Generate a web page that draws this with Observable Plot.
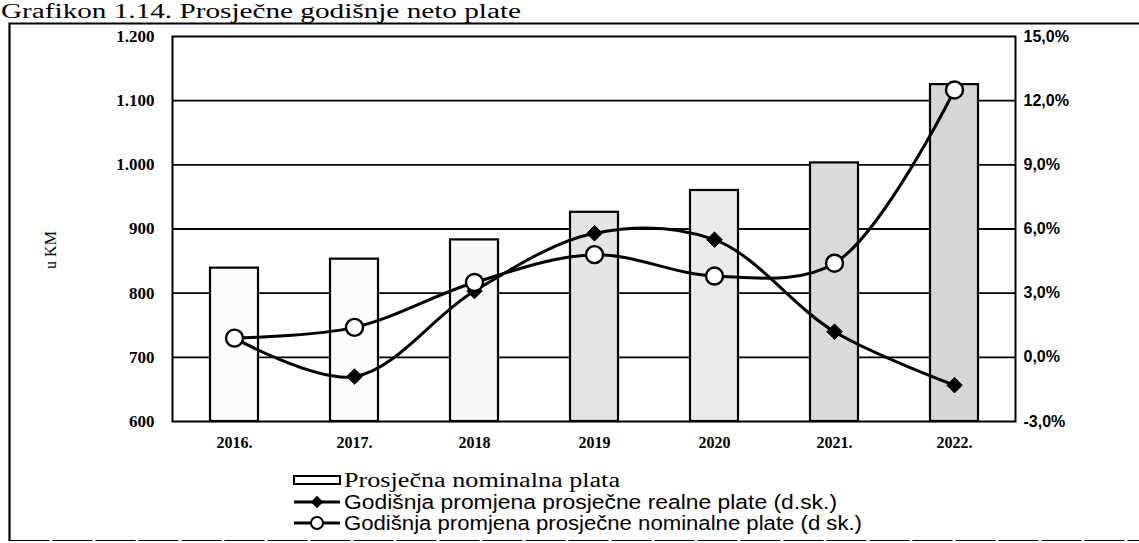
<!DOCTYPE html>
<html><head><meta charset="utf-8">
<script src="https://cdn.jsdelivr.net/npm/d3@7"></script>
<script src="https://cdn.jsdelivr.net/npm/@observablehq/plot@0.6"></script>
<style>
body{margin:0;background:#fff}
#wrap{position:relative;width:1139px;height:543px;overflow:hidden;background:#fff}
#wrap svg{position:absolute;left:0;top:0}
</style>
</head><body><div id="wrap"></div>
<script>
// ---- data ----
const years = ["2016.", "2017.", "2018", "2019", "2020", "2021.", "2022."];
const plata = [839, 853, 883, 926, 960, 1003, 1125];          // Prosječna nominalna plata (KM)
const realna = [0.9, -0.9, 3.1, 5.8, 5.5, 1.2, -1.3];          // godišnja promjena realne plate (%)
const nominalna = [0.9, 1.4, 3.5, 4.8, 3.8, 4.4, 12.5];       // godišnja promjena nominalne plate (%)
const leftTicks = [600, 700, 800, 900, 1000, 1100, 1200];
const leftLabels = ["600", "700", "800", "900", "1.000", "1.100", "1.200"];
const rightPct = [-3, 0, 3, 6, 9, 12, 15];
const rightLabels = ["-3,0%", "0,0%", "3,0%", "6,0%", "9,0%", "12,0%", "15,0%"];
const legendLabels = ["Prosječna nominalna plata",
  "Godišnja promjena prosječne realne plate (d.sk.)",
  "Godišnja promjena prosječne nominalne plate (d sk.)"];
const title = "Grafikon 1.14. Prosječne godišnje neto plate";
const yTitle = "u KM";

// styles
const barShades = ["#fbfbfb", "#fcfcfc", "#f7f7f7", "#e4e4e4", "#eaeaea", "#dadada", "#d6d6d6"];

// map the right-axis percentage onto the left KM scale (-3% -> 600, 15% -> 1200)
const toKM = p => 600 + (p - rightPct[0]) * (1200 - 600) / (rightPct[rightPct.length - 1] - rightPct[0]);
const rightTicks = rightPct.map(toKM);

const rows = years.map((y, i) => ({year: y, plata: plata[i], real: toKM(realna[i]), nom: toKM(nominalna[i])}));

const chart = Plot.plot({
  width: 1139, height: 460,
  marginLeft: 172, marginRight: 124, marginTop: 36, marginBottom: 39,
  style: {background: "transparent", fontFamily: "Liberation Serif", color: "#000"},
  x: {domain: years, paddingInner: 0.6, paddingOuter: 0.3, axis: null},
  y: {domain: [600, 1200], axis: null},
  color: {type: "ordinal", domain: years, range: barShades},
  marks: [
    Plot.ruleY(leftTicks.slice(1, -1), {stroke: "#000", strokeWidth: 1.8}),
    Plot.barY(rows, {x: "year", y1: 600, y2: "plata", fill: "year", stroke: "#000", strokeWidth: 2.2}),
    Plot.frame({stroke: "#000", strokeWidth: 2}),
    Plot.line(rows, {x: "year", y: "real", curve: "catmull-rom", stroke: "#000", strokeWidth: 3}),
    Plot.dot(rows, {x: "year", y: "real", symbol: "diamond2", r: 7, fill: "#000", stroke: "#000", strokeWidth: 1}),
    Plot.line(rows, {x: "year", y: "nom", curve: "catmull-rom", stroke: "#000", strokeWidth: 3}),
    Plot.dot(rows, {x: "year", y: "nom", r: 8.5, fill: "#fff", stroke: "#000", strokeWidth: 2.4}),
    Plot.axisX({tickSize: 0, tickPadding: 15, fontSize: 16, fontWeight: "bold", label: null}),
    Plot.axisY({anchor: "left", ticks: leftTicks, tickFormat: d => leftLabels[leftTicks.indexOf(d)],
      tickSize: 0, tickPadding: 18, fontSize: 17, fontWeight: "bold", label: null}),
    Plot.axisY({anchor: "right", ticks: rightTicks, tickFormat: d => rightLabels[rightTicks.indexOf(d)],
      tickSize: 0, tickPadding: 8, fontSize: 16, fontWeight: "bold", fontFamily: "Liberation Sans", label: null})
  ]
});
const wrap = document.getElementById("wrap");
wrap.appendChild(chart);

// ---- overlay: title, frame, y title, legend ----
const ov = d3.select(wrap).append("svg").attr("width", 1139).attr("height", 543)
  .style("pointer-events", "none");
ov.append("text").attr("x", 1).attr("y", 18).attr("font-family", "Liberation Serif")
  .attr("font-size", 20).attr("textLength", 520).attr("lengthAdjust", "spacingAndGlyphs").text(title);
ov.append("path").attr("d", "M9.5,541 V23.5 H1139").attr("fill", "none").attr("stroke", "#000").attr("stroke-width", 2.2);
ov.append("path").attr("d", "M9.5,540.5 H1139").attr("fill", "none").attr("stroke", "#000").attr("stroke-width", 1.2).attr("stroke-dasharray", "40 3");
ov.append("text").attr("transform", "translate(56,250) rotate(-90)").attr("text-anchor", "middle")
  .attr("font-family", "Liberation Serif").attr("font-size", 16).text(yTitle);

const lg = ov.append("g");
const rowY = [480, 502, 523];
const textLen = [276, 493, 518];
const fonts = ["Liberation Serif", "Liberation Sans", "Liberation Sans"];
// symbol 1: bar
lg.append("rect").attr("x", 294).attr("y", rowY[0] - 4).attr("width", 46).attr("height", 8)
  .attr("fill", "#fff").attr("stroke", "#000").attr("stroke-width", 2);
// symbol 2: line + diamond
lg.append("line").attr("x1", 294).attr("x2", 340).attr("y1", rowY[1]).attr("y2", rowY[1]).attr("stroke", "#000").attr("stroke-width", 3);
lg.append("path").attr("d", d3.symbol(d3.symbolDiamond2, 100)()).attr("transform", `translate(317,${rowY[1]})`).attr("fill", "#000");
// symbol 3: line + circle
lg.append("line").attr("x1", 294).attr("x2", 340).attr("y1", rowY[2]).attr("y2", rowY[2]).attr("stroke", "#000").attr("stroke-width", 3);
lg.append("circle").attr("cx", 317).attr("cy", rowY[2]).attr("r", 6).attr("fill", "#fff").attr("stroke", "#000").attr("stroke-width", 2);
legendLabels.forEach((t, i) => {
  lg.append("text").attr("x", 344).attr("y", rowY[i] + 7).attr("font-family", fonts[i]).attr("font-size", 20)
    .attr("textLength", textLen[i]).attr("lengthAdjust", "spacingAndGlyphs").text(t);
});
</script>
</body></html>
